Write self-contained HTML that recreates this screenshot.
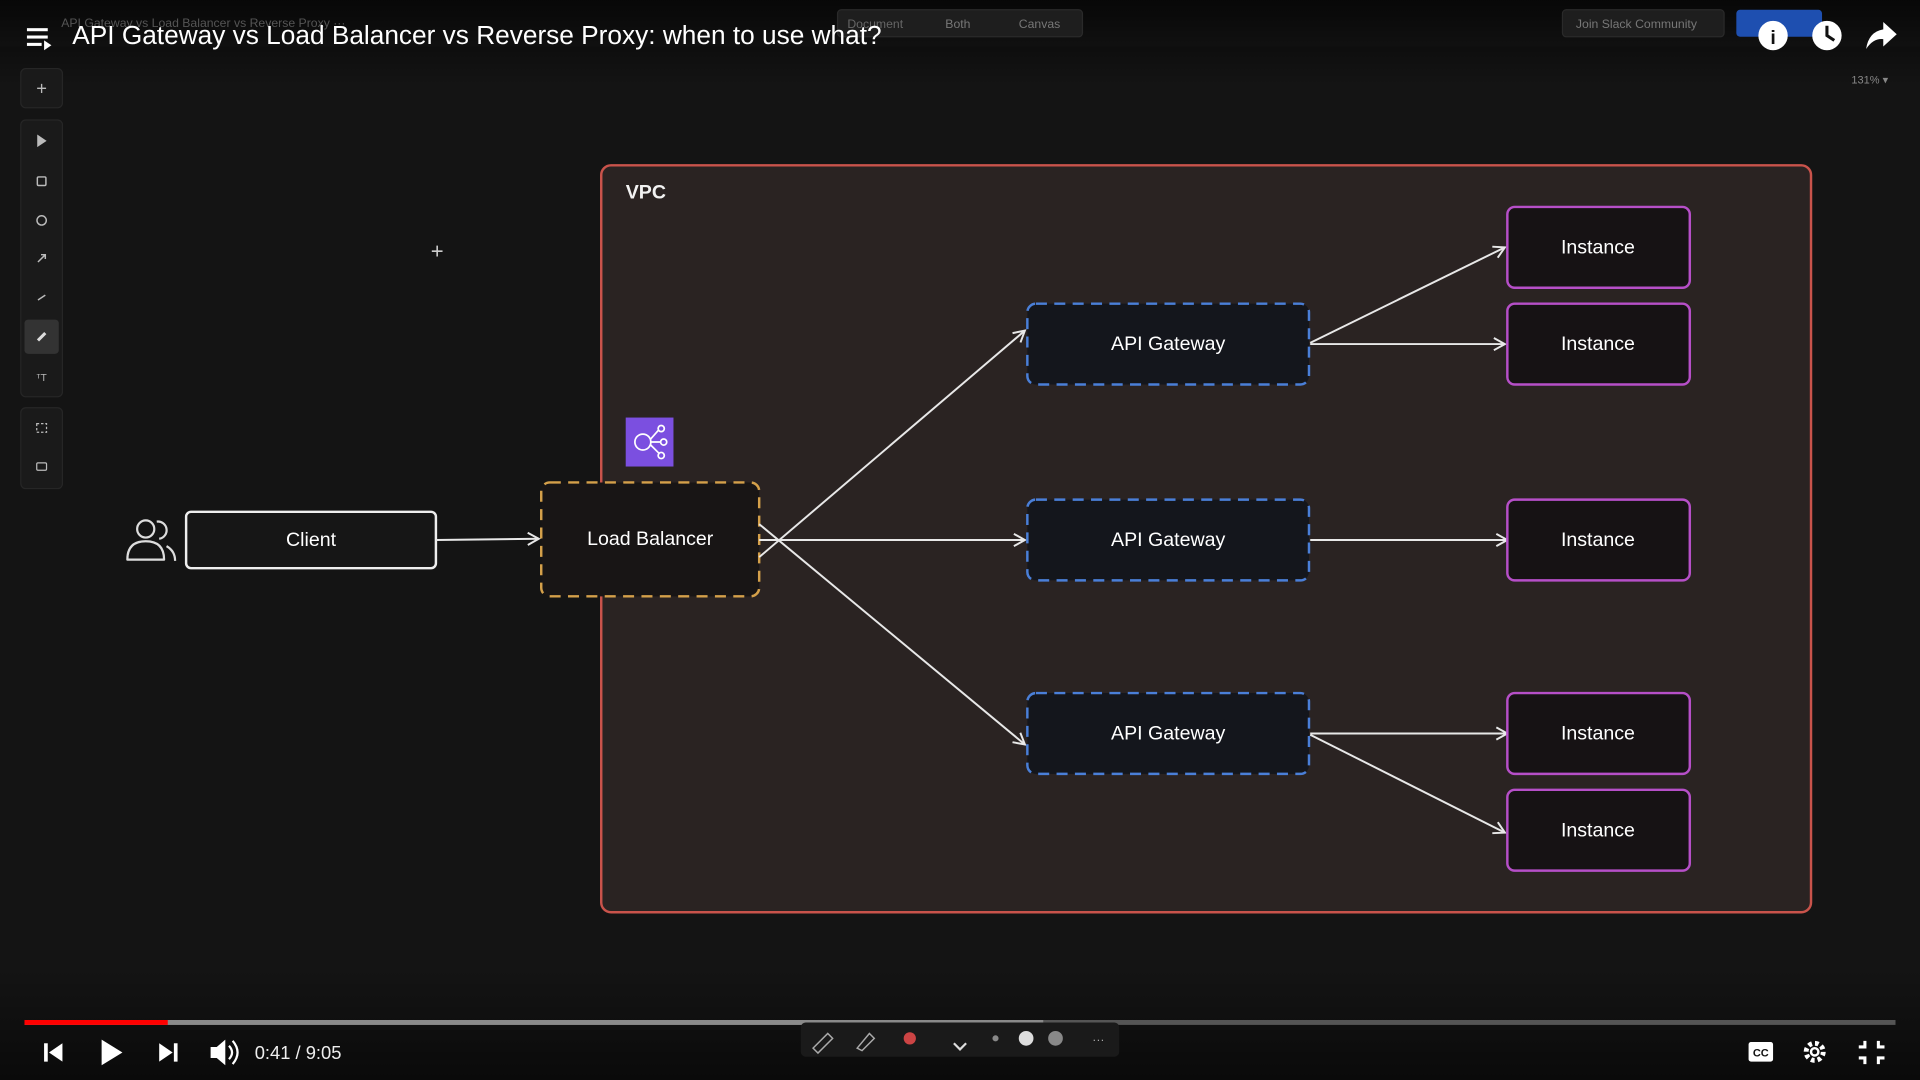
<!DOCTYPE html>
<html><head><meta charset="utf-8"><style>
html,body{margin:0;padding:0;background:#121212;overflow:hidden}
svg{display:block}
text{font-family:"Liberation Sans",sans-serif}
</style></head><body>
<svg width="1920" height="1080" viewBox="0 0 1568 882" preserveAspectRatio="none">
<defs>
<marker id="a" markerWidth="12" markerHeight="12" refX="10" refY="6" orient="auto" markerUnits="userSpaceOnUse">
<path d="M1,1 L10,6 L1,11" fill="none" stroke="#e8e8e8" stroke-width="1.6"/>
</marker>
<linearGradient id="tg" x1="0" y1="0" x2="0" y2="1"><stop offset="0" stop-color="#000" stop-opacity=".7"/><stop offset="1" stop-color="#000" stop-opacity="0"/></linearGradient>
<linearGradient id="bg" x1="0" y1="0" x2="0" y2="1"><stop offset="0" stop-color="#000" stop-opacity="0"/><stop offset="1" stop-color="#000" stop-opacity=".5"/></linearGradient>
</defs>
<rect width="1568" height="882" fill="#141414"/>
<rect x="0" y="0" width="1568" height="38" fill="#181818"/>
<rect x="0" y="0" width="1568" height="70" fill="url(#tg)"/>
<text x="50" y="22" fill="#555" font-size="10">API Gateway vs Load Balancer vs Reverse Proxy ···</text>
<rect x="684" y="8" width="200" height="22" rx="3" fill="#1e1e1e" stroke="#2a2a2a"/>
<text x="692" y="23" fill="#666" font-size="10">Document</text>
<text x="772" y="23" fill="#777" font-size="10">Both</text>
<text x="832" y="23" fill="#777" font-size="10">Canvas</text>
<rect x="1276" y="8" width="132" height="22" rx="3" fill="#1e1e1e" stroke="#2a2a2a"/>
<text x="1287" y="23" fill="#777" font-size="10">Join Slack Community</text>
<rect x="1418" y="8" width="70" height="22" rx="3" fill="#1e4fb0"/>
<text x="1512" y="68" fill="#888" font-size="9">131% ▾</text>
<g fill="#fff"><rect x="22" y="23" width="17" height="2.5"/><rect x="22" y="29" width="17" height="2.5"/><rect x="22" y="35" width="12" height="2.5"/><path d="M36,33 L42,37 L36,41Z"/></g>
<text x="59" y="36" fill="#fff" font-size="21" textLength="661" lengthAdjust="spacingAndGlyphs">API Gateway vs Load Balancer vs Reverse Proxy: when to use what?</text>
<circle cx="1448" cy="29" r="12" fill="#fff"/><text x="1448" y="36" fill="#111" font-size="16" font-weight="bold" text-anchor="middle">i</text>
<circle cx="1492" cy="29" r="12" fill="#fff"/><path d="M1492,21 V29 L1498,33" stroke="#111" stroke-width="2.5" fill="none"/>
<path d="M1524,40 Q1526,26 1538,24 V18 L1549,28 L1538,38 V32 Q1530,31 1524,40Z" fill="#fff"/>
<rect x="17" y="56" width="34" height="32" rx="4" fill="#1a1a1a" stroke="#262626"/>
<text x="34" y="77" fill="#bbb" font-size="15" text-anchor="middle">+</text>
<rect x="17" y="98" width="34" height="226" rx="4" fill="#1a1a1a" stroke="#262626"/>
<g fill="none" stroke="#bbb" stroke-width="1.2">
<path d="M31,111 L37,115 L31,119Z" fill="#bbb"/>
<rect x="30.5" y="144.5" width="7" height="7" rx="1"/>
<circle cx="34" cy="180" r="3.8"/>
<path d="M31,214 L37,208 M33.5,208 H37 V211.5"/>
<path d="M31,245 L37,241"/>
</g>
<rect x="20" y="261" width="28" height="28" rx="3" fill="#333"/>
<path d="M31,278 L37,272" stroke="#ddd" stroke-width="2.5"/>
<text x="34" y="311" fill="#bbb" font-size="8" text-anchor="middle">ᵀT</text>
<rect x="17" y="333" width="34" height="66" rx="4" fill="#1a1a1a" stroke="#262626"/>
<rect x="30" y="346" width="8" height="7" fill="none" stroke="#bbb" stroke-dasharray="2 1.5"/>
<rect x="30" y="378" width="8" height="6" rx="1" fill="none" stroke="#bbb"/>
<text x="357" y="211" fill="#ccc" font-size="18" text-anchor="middle">+</text>
<rect x="491" y="135" width="988" height="610" rx="8" fill="#2a2322" stroke="#c9534b" stroke-width="2"/>
<text x="511" y="162" fill="#f2f2f2" font-size="16" font-weight="bold">VPC</text>
<rect x="511" y="341" width="39" height="40" fill="#7b4fe0"/>
<g fill="none" stroke="#fff" stroke-width="1.4"><circle cx="525" cy="361" r="6.5"/><circle cx="540" cy="350" r="2.5"/><circle cx="542" cy="361" r="2.5"/><circle cx="540" cy="372" r="2.5"/><path d="M531,359 L538,351 M531.5,361 H539.5 M531,363 L538,370"/></g>
<g fill="none" stroke="#ddd" stroke-width="1.8"><circle cx="119" cy="432" r="7"/><path d="M104,457 Q104,442 119,442 Q134,442 134,457 Z" stroke-linejoin="round"/><path d="M128,426 A7,7 0 0 1 130,440 M136,446 Q143,450 143,458"/></g>
<rect x="152" y="418" width="204" height="46" rx="4" fill="#161616" stroke="#eee" stroke-width="2"/>
<text x="254" y="446" fill="#fff" font-size="16" text-anchor="middle">Client</text>
<rect x="442" y="394" width="178" height="93" rx="7" fill="#181515" stroke="#d4a04a" stroke-width="2" stroke-dasharray="9 6"/>
<text x="531" y="445" fill="#fff" font-size="16" text-anchor="middle">Load Balancer</text>
<g stroke="#e8e8e8" stroke-width="1.6" fill="none" marker-end="url(#a)">
<path d="M356,441 L440,440"/>
<path d="M620,455 L837,270"/>
<path d="M620,441 L837,441"/>
<path d="M620,428 L837,608"/>
<path d="M1070,280 L1229,202"/>
<path d="M1070,281 L1229,281"/>
<path d="M1070,441 L1231,441"/>
<path d="M1070,599 L1231,599"/>
<path d="M1070,600 L1229,680"/>
</g>
<g fill="#14161c" stroke="#4a7fd8" stroke-width="2" stroke-dasharray="9 6">
<rect x="839" y="248" width="230" height="66" rx="7"/>
<rect x="839" y="408" width="230" height="66" rx="7"/>
<rect x="839" y="566" width="230" height="66" rx="7"/>
</g>
<g fill="#fff" font-size="16" text-anchor="middle">
<text x="954" y="286">API Gateway</text><text x="954" y="446">API Gateway</text><text x="954" y="604">API Gateway</text>
</g>
<g fill="#161214" stroke="#b64fc8" stroke-width="2">
<rect x="1231" y="169" width="149" height="66" rx="6"/>
<rect x="1231" y="248" width="149" height="66" rx="6"/>
<rect x="1231" y="408" width="149" height="66" rx="6"/>
<rect x="1231" y="566" width="149" height="66" rx="6"/>
<rect x="1231" y="645" width="149" height="66" rx="6"/>
</g>
<g fill="#fff" font-size="16" text-anchor="middle">
<text x="1305" y="207">Instance</text><text x="1305" y="286">Instance</text><text x="1305" y="446">Instance</text><text x="1305" y="604">Instance</text><text x="1305" y="683">Instance</text>
</g>
<rect x="0" y="790" width="1568" height="92" fill="url(#bg)"/>
<rect x="20" y="833" width="1528" height="4" fill="#555"/>
<rect x="20" y="833" width="832" height="4" fill="#8a8a8a"/>
<rect x="20" y="833" width="117" height="4" fill="#f00"/>
<g fill="#fff">
<rect x="36" y="852" width="3" height="15"/><path d="M51,852 V867 L40,859.5Z"/>
<path d="M83,849 V870 L100,859.5Z"/>
<path d="M130,852 V867 L141,859.5Z"/><rect x="142" y="852" width="3" height="15"/>
<path d="M172,855 H177 L184,849 V870 L177,864 H172Z"/>
</g>
<path d="M187,854 Q192,859.5 187,865 M190,850 Q198,859.5 190,869" stroke="#fff" stroke-width="1.8" fill="none"/>
<text x="208" y="865" fill="#eee" font-size="15">0:41 / 9:05</text>
<rect x="654" y="835" width="260" height="28" rx="4" fill="#1a1a1a"/>
<path d="M664,856 L676,844 L680,848 L668,860 Z" fill="none" stroke="#aaa" stroke-width="1.2"/>
<path d="M700,856 L710,844 L714,848 L704,858 Z" fill="none" stroke="#aaa" stroke-width="1.2"/>
<circle cx="743" cy="848" r="5" fill="#c44"/><circle cx="838" cy="848" r="6" fill="#ddd"/><circle cx="862" cy="848" r="6" fill="#888"/><circle cx="813" cy="848" r="2.5" fill="#888"/>
<text x="897" y="852" fill="#aaa" font-size="10" text-anchor="middle">···</text>
<path d="M779,852 L784,857 L789,852" stroke="#ddd" stroke-width="1.8" fill="none"/>
<rect x="1428" y="851" width="20" height="16" rx="2" fill="#fff"/><text x="1438" y="863" fill="#111" font-size="9" font-weight="bold" text-anchor="middle">CC</text>
<circle cx="1482" cy="859" r="7" fill="none" stroke="#fff" stroke-width="4" stroke-dasharray="3 2.5"/><circle cx="1482" cy="859" r="4" fill="#fff"/><circle cx="1482" cy="859" r="2" fill="#0d0d0d"/>
<path d="M1518,855 H1523 V850 M1534,850 V855 H1539 M1518,864 H1523 V869 M1534,869 V864 H1539" stroke="#fff" stroke-width="2.5" fill="none"/>
</svg>
</body></html>
